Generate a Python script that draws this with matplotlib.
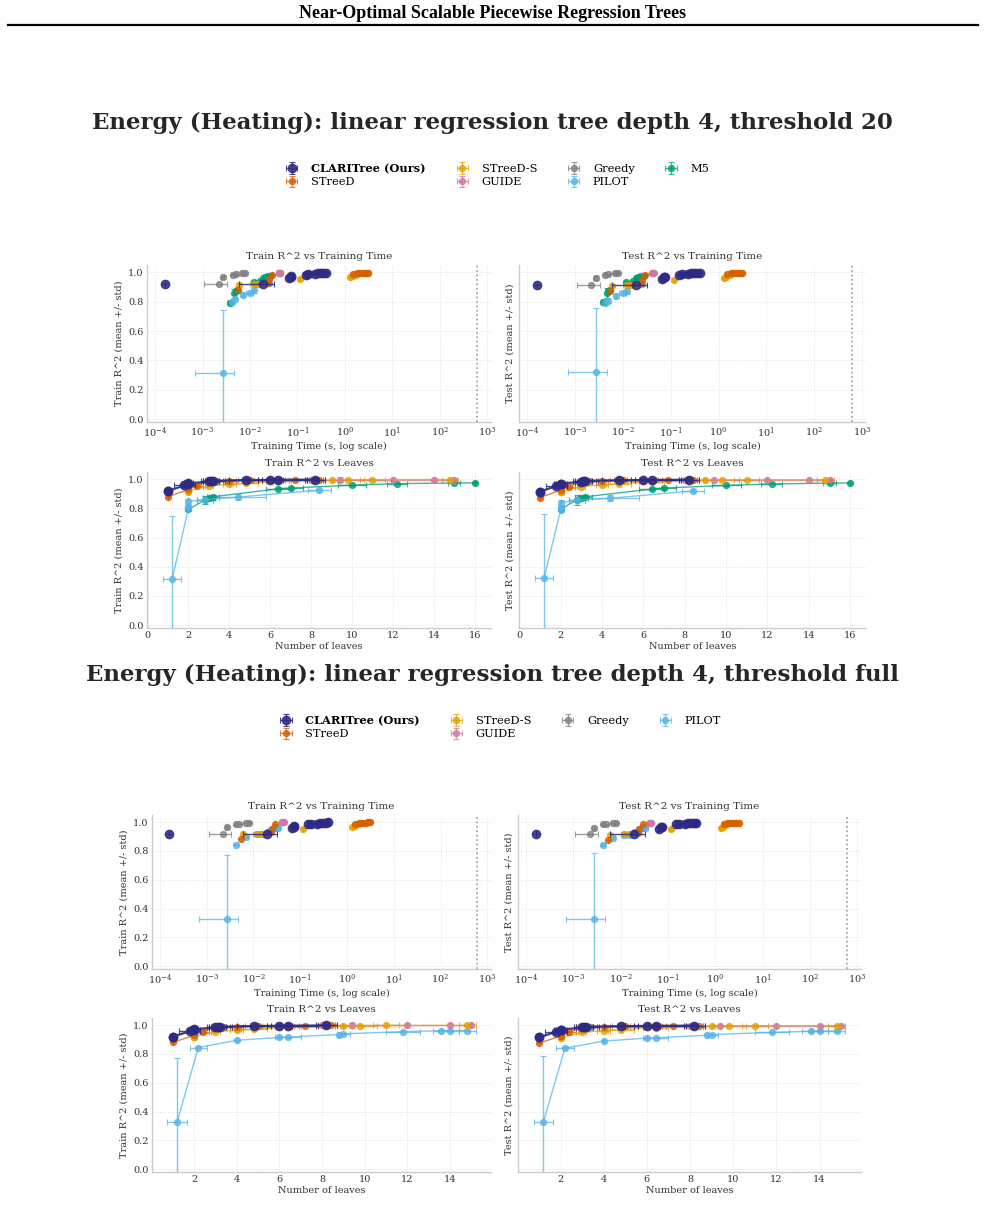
import matplotlib.pyplot as plt
from matplotlib.lines import Line2D
from matplotlib.ticker import NullFormatter
import numpy as np

plt.rcParams['font.family'] = 'DejaVu Serif'

# ---- data ----
methods = ['CLARITree (Ours)', 'STreeD', 'STreeD-S', 'GUIDE', 'Greedy', 'PILOT', 'M5']
colors = ['#2d2a83', '#d55e00', '#e69f00', '#cc79a7', '#808080', '#56b4e9', '#009e73']

clari_time = [1.6e-4, 0.019, 0.066, 0.072, 0.075, 0.15, 0.17, 0.23, 0.27, 0.31, 0.35, 0.40]
clari_time_std = [0, 0.013, 0.004, 0.004, 0.004, 0.01, 0.01, 0.015, 0.015, 0.02, 0.02, 0.02]
clari_leaves = [1.0, 1.0, 1.8, 2.0, 2.0, 3.0, 3.1, 3.2, 4.8, 6.0, 6.4, 8.2]
clari_leaves_std = [0, 0, 0.5, 0.3, 0.2, 0.3, 0.4, 0.6, 0.8, 0.6, 1.4, 0.5]
clari_train = [0.92, 0.92, 0.958, 0.968, 0.972, 0.985, 0.988, 0.99, 0.994, 0.996, 0.997, 0.998]
clari_train_std = [0, 0, 0.01, 0.01, 0.005, 0.003, 0.003, 0.003, 0.002, 0.002, 0.002, 0.001]
clari_test = [0.915, 0.915, 0.955, 0.965, 0.97, 0.984, 0.987, 0.99, 0.993, 0.995, 0.996, 0.997]
clari_test_std = [0, 0, 0.015, 0.01, 0.005, 0.004, 0.003, 0.003, 0.002, 0.002, 0.002, 0.002]

streed_time = [0.0055, 0.0235, 0.025, 0.029, 1.5, 1.8, 2.0, 2.4, 2.8, 3.1]
streed_time_std = [0, 0, 0, 0, 0.1, 0.1, 0.1, 0.2, 0.2, 0.2]
streed_leaves = [1.0, 2.0, 2.4, 3.0, 4.0, 5.0, 6.4, 7.2, 8.2, 8.4]
streed_leaves_std = [0, 0, 0.3, 0.2, 0.3, 0.4, 0.5, 0.5, 0.4, 0.3]
streed_train = [0.88, 0.93, 0.955, 0.985, 0.99, 0.994, 0.996, 0.997, 0.998, 0.998]
streed_train_std = [0, 0.01, 0.01, 0.004, 0.003, 0.002, 0.002, 0.001, 0.001, 0.001]
streed_test = [0.875, 0.925, 0.95, 0.984, 0.989, 0.993, 0.995, 0.996, 0.997, 0.997]
streed_test_std = [0, 0.01, 0.01, 0.004, 0.003, 0.002, 0.002, 0.002, 0.001, 0.001]

streeds_time = [0.006, 0.012, 0.015, 0.115, 1.3, 1.45, 1.7, 2.1, 2.5, 2.8, 3.1]
streeds_time_std = [0, 0.002, 0.002, 0, 0.05, 0.05, 0.1, 0.1, 0.1, 0.2, 0.2]
streeds_leaves = [2.0, 2.0, 2.0, 3.0, 4.0, 4.8, 6.4, 9.0, 9.8, 11.0, 14.8]
streeds_leaves_std = [0, 0, 0, 0.2, 0.3, 0.6, 0.6, 0.4, 0.8, 0.6, 0.4]
streeds_train = [0.915, 0.92, 0.92, 0.955, 0.965, 0.972, 0.985, 0.995, 0.997, 0.998, 0.998]
streeds_train_std = [0.01, 0.01, 0.01, 0.005, 0.004, 0.004, 0.003, 0.002, 0.001, 0.001, 0.001]
streeds_test = [0.91, 0.915, 0.915, 0.95, 0.962, 0.97, 0.983, 0.994, 0.996, 0.997, 0.997]
streeds_test_std = [0.01, 0.01, 0.01, 0.005, 0.004, 0.004, 0.003, 0.002, 0.002, 0.001, 0.001]

guide_time = [0.040, 0.041, 0.042, 0.043, 0.044]
guide_time_std = [0, 0, 0, 0, 0]
guide_leaves = [8.0, 9.4, 12.0, 14.0, 15.0]
guide_leaves_std = [0, 0, 0, 0, 0]
guide_train = [0.998, 0.998, 0.998, 0.998, 0.998]
guide_train_std = [0.01, 0.015, 0.01, 0.01, 0.01]
guide_test = [0.997, 0.997, 0.997, 0.997, 0.997]
guide_test_std = [0.005, 0.005, 0.005, 0.005, 0.005]

greedy_time = [0.0022, 0.0027, 0.0043, 0.005, 0.0068, 0.008]
greedy_time_std = [0.0011, 0.0002, 0.0003, 0.0003, 0.0004, 0.0004]
greedy_leaves = [1.0, 2.0, 3.0, 3.4, 4.8, 6.0]
greedy_leaves_std = [0, 0, 0, 0.3, 0.4, 0.4]
greedy_train = [0.92, 0.965, 0.985, 0.987, 0.995, 0.996]
greedy_train_std = [0, 0.012, 0.004, 0.003, 0.002, 0.002]
greedy_test = [0.915, 0.96, 0.984, 0.986, 0.994, 0.995]
greedy_test_std = [0, 0.015, 0.004, 0.003, 0.002, 0.002]

pilot_time = [0.0027, 0.0042, 0.0048, 0.0071, 0.0100, 0.012, 0.025]
pilot_time_std = [0.002, 0.0003, 0.0003, 0.0005, 0.0018, 0.001, 0.002]
pilot_leaves = [1.2, 2.0, 2.0, 2.0, 2.8, 4.4, 8.4]
pilot_leaves_std = [0.45, 0, 0, 0, 0.4, 1.4, 0.55]
pilot_train = [0.316, 0.80, 0.815, 0.848, 0.86, 0.878, 0.925]
pilot_train_std = [0.43, 0.01, 0.01, 0.01, 0.01, 0.02, 0.01]
pilot_test = [0.32, 0.79, 0.805, 0.84, 0.858, 0.87, 0.92]
pilot_test_std = [0.44, 0.01, 0.012, 0.015, 0.012, 0.02, 0.01]

m5_time = [0.0038, 0.0047, 0.005, 0.0053, 0.0119, 0.016, 0.019, 0.021, 0.024, 0.027]
m5_time_std = [0.0003, 0.0003, 0.0003, 0.0003, 0.001, 0.001, 0.001, 0.001, 0.002, 0.002]
m5_leaves = [2.0, 2.8, 3.0, 3.2, 6.4, 7.0, 10.0, 12.2, 15.0, 16.0]
m5_leaves_std = [0, 0.4, 0.3, 0.3, 0.6, 0.6, 0.7, 0.5, 0.3, 0]
m5_train = [0.793, 0.858, 0.872, 0.88, 0.935, 0.94, 0.96, 0.97, 0.975, 0.976]
m5_train_std = [0.01, 0.03, 0.01, 0.01, 0.005, 0.005, 0.004, 0.003, 0.003, 0.002]
m5_test = [0.795, 0.86, 0.873, 0.88, 0.933, 0.94, 0.958, 0.968, 0.974, 0.975]
m5_test_std = [0.01, 0.035, 0.012, 0.01, 0.006, 0.005, 0.004, 0.003, 0.003, 0.002]

# PILOT with the full threshold
pilotf_time = [0.0027, 0.0043, 0.0070, 0.0118, 0.015, 0.020, 0.022, 0.025, 0.028, 0.030, 0.033]
pilotf_time_std = [0.002, 0.0004, 0.0005, 0.001, 0.001, 0.002, 0.002, 0.002, 0.002, 0.003, 0.004]
pilotf_leaves = [1.2, 2.2, 4.0, 6.0, 6.4, 8.8, 9.0, 11.8, 13.6, 14.0, 14.8]
pilotf_leaves_std = [0.45, 0.4, 0, 0, 0.6, 0, 0.3, 0.8, 0.4, 0.4, 0.4]
pilotf_train = [0.325, 0.845, 0.895, 0.915, 0.918, 0.935, 0.94, 0.955, 0.962, 0.963, 0.963]
pilotf_train_std = [0.445, 0.005, 0.005, 0.005, 0.004, 0.004, 0.004, 0.003, 0.003, 0.003, 0.003]
pilotf_test = [0.325, 0.84, 0.89, 0.91, 0.913, 0.93, 0.935, 0.95, 0.958, 0.96, 0.96]
pilotf_test_std = [0.46, 0.006, 0.006, 0.006, 0.005, 0.005, 0.005, 0.004, 0.004, 0.004, 0.004]

time_limit = 600


def pack(t, ts, l, ls, tr, trs, te, tes):
    return {'time': (t, ts), 'leaves': (l, ls), 'train': (tr, trs), 'test': (te, tes)}


clari = pack(clari_time, clari_time_std, clari_leaves, clari_leaves_std,
             clari_train, clari_train_std, clari_test, clari_test_std)
streed = pack(streed_time, streed_time_std, streed_leaves, streed_leaves_std,
              streed_train, streed_train_std, streed_test, streed_test_std)
streeds = pack(streeds_time, streeds_time_std, streeds_leaves, streeds_leaves_std,
               streeds_train, streeds_train_std, streeds_test, streeds_test_std)
guide = pack(guide_time, guide_time_std, guide_leaves, guide_leaves_std,
             guide_train, guide_train_std, guide_test, guide_test_std)
greedy = pack(greedy_time, greedy_time_std, greedy_leaves, greedy_leaves_std,
              greedy_train, greedy_train_std, greedy_test, greedy_test_std)
pilot = pack(pilot_time, pilot_time_std, pilot_leaves, pilot_leaves_std,
             pilot_train, pilot_train_std, pilot_test, pilot_test_std)
m5 = pack(m5_time, m5_time_std, m5_leaves, m5_leaves_std,
          m5_train, m5_train_std, m5_test, m5_test_std)
pilotf = pack(pilotf_time, pilotf_time_std, pilotf_leaves, pilotf_leaves_std,
              pilotf_train, pilotf_train_std, pilotf_test, pilotf_test_std)

set_20 = [clari, streed, streeds, guide, greedy, pilot, m5]
set_full = [clari, streed, streeds, guide, greedy, pilotf]

W, H = 985.0, 1219.0
fig = plt.figure(figsize=(W / 100, H / 100), dpi=100)


def px_rect(x0, y0, x1, y1):
    return [x0 / W, 1 - y1 / H, (x1 - x0) / W, (y1 - y0) / H]


def style(ax, left_col):
    for s in ['top', 'right']:
        ax.spines[s].set_visible(False)
    for s in ['left', 'bottom']:
        ax.spines[s].set_color('#cccccc')
        ax.spines[s].set_linewidth(1.0)
    ax.grid(True, ls=':', color='#e2e2e2', lw=0.7)
    ax.set_axisbelow(True)
    ax.tick_params(which='both', length=0, labelsize=7, colors='#333333', pad=2.5)
    ax.set_ylim(-0.02, 1.05)
    ax.set_yticks(np.arange(0, 1.01, 0.2))
    if not left_col:
        ax.tick_params(axis='y', labelleft=False)


def draw(ax, data, xkey, ykey, connect):
    handles = []
    # back to front so CLARITree sits on top
    for i in reversed(range(len(data))):
        d = data[i]
        x, xe = d[xkey]
        y, ye = d[ykey]
        ms = 6 if i == 0 else 4.3
        lw = 1.6 if i == 0 else 1.0
        h = ax.errorbar(x, y, xerr=xe, yerr=ye, fmt='o', color=colors[i], ms=ms,
                        ls='-' if connect else 'none', lw=lw, elinewidth=1.0,
                        capsize=2, capthick=0.8, alpha=0.85 if i == 0 else 0.75,
                        label=methods[i], zorder=8 if i == 0 else 3)
        handles.append(h)
    return handles[::-1]


def block(data, top, title, boxes):
    (tl, tr, bl, br) = boxes
    fig.text(0.5, 1 - top / H, title, ha='center', va='center',
             fontsize=16.5, fontweight='bold', color='#262626')
    ax1 = fig.add_axes(px_rect(*tl))
    ax2 = fig.add_axes(px_rect(*tr))
    ax3 = fig.add_axes(px_rect(*bl))
    ax4 = fig.add_axes(px_rect(*br))
    hs = draw(ax1, data, 'time', 'train', False)
    draw(ax2, data, 'time', 'test', False)
    draw(ax3, data, 'leaves', 'train', True)
    draw(ax4, data, 'leaves', 'test', True)
    for ax, left in [(ax1, True), (ax2, False), (ax3, True), (ax4, False)]:
        style(ax, left)
    for ax in (ax1, ax2):
        ax.set_xscale('log')
        ax.set_xlim(10 ** -4.17, 10 ** 3.08)
        ax.xaxis.set_minor_formatter(NullFormatter())
        ax.axvline(time_limit, color='#9a9a9a', ls=':', lw=1.2, zorder=1)
        ax.set_xlabel('Training Time (s, log scale)', fontsize=7, labelpad=1, color='#333333')
    for ax in (ax3, ax4):
        ax.set_xlabel('Number of leaves', fontsize=7, labelpad=1, color='#333333')
    ax1.set_title('Train R^2 vs Training Time', fontsize=7.5, pad=4, color='#333333')
    ax2.set_title('Test R^2 vs Training Time', fontsize=7.5, pad=4, color='#333333')
    ax3.set_title('Train R^2 vs Leaves', fontsize=7.5, pad=4, color='#333333')
    ax4.set_title('Test R^2 vs Leaves', fontsize=7.5, pad=4, color='#333333')
    for ax in (ax1, ax3):
        ax.set_ylabel('Train R^2 (mean +/- std)', fontsize=7, labelpad=3, color='#333333')
    for ax in (ax2, ax4):
        ax.set_ylabel('Test R^2 (mean +/- std)', fontsize=7, labelpad=3, color='#333333')
    return ax1, ax3, hs


# page header
fig.text(0.5, 1 - 13 / H, 'Near-Optimal Scalable Piecewise Regression Trees',
         ha='center', va='center', family='Liberation Serif', fontweight='bold', fontsize=13)
fig.add_artist(Line2D([8 / W, 978 / W], [1 - 25 / H, 1 - 25 / H], color='black', lw=1.6))

# threshold 20
a1, a3, hs = block(set_20, 123, 'Energy (Heating): linear regression tree depth 4, threshold 20',
                   [(147, 265, 491, 422), (519, 265, 866, 422),
                    (147, 472, 491, 628), (519, 472, 866, 628)])
a3.set_xticks(np.arange(0, 17, 2))
a3.set_xlim(-0.03, 16.8)
leg = fig.legend(handles=hs, labels=methods, loc='center', bbox_to_anchor=(496 / W, 1 - 175 / H),
                 ncol=4, frameon=False, fontsize=8.2, columnspacing=2.4, handletextpad=0.9,
                 labelspacing=0.3, handlelength=1.6)
leg.get_texts()[0].set_fontweight('bold')

# full threshold
b1, b3, hs2 = block(set_full, 675, 'Energy (Heating): linear regression tree depth 4, threshold full',
                    [(152, 815, 491, 969), (518, 815, 861, 969),
                     (152, 1018, 491, 1172), (518, 1018, 861, 1172)])
leg2 = fig.legend(handles=hs2, labels=methods[:6], loc='center', bbox_to_anchor=(499 / W, 1 - 727 / H),
                  ncol=4, frameon=False, fontsize=8.2, columnspacing=2.4, handletextpad=0.9,
                  labelspacing=0.3, handlelength=1.6)
leg2.get_texts()[0].set_fontweight('bold')

fig.savefig('out.png', dpi=100)
